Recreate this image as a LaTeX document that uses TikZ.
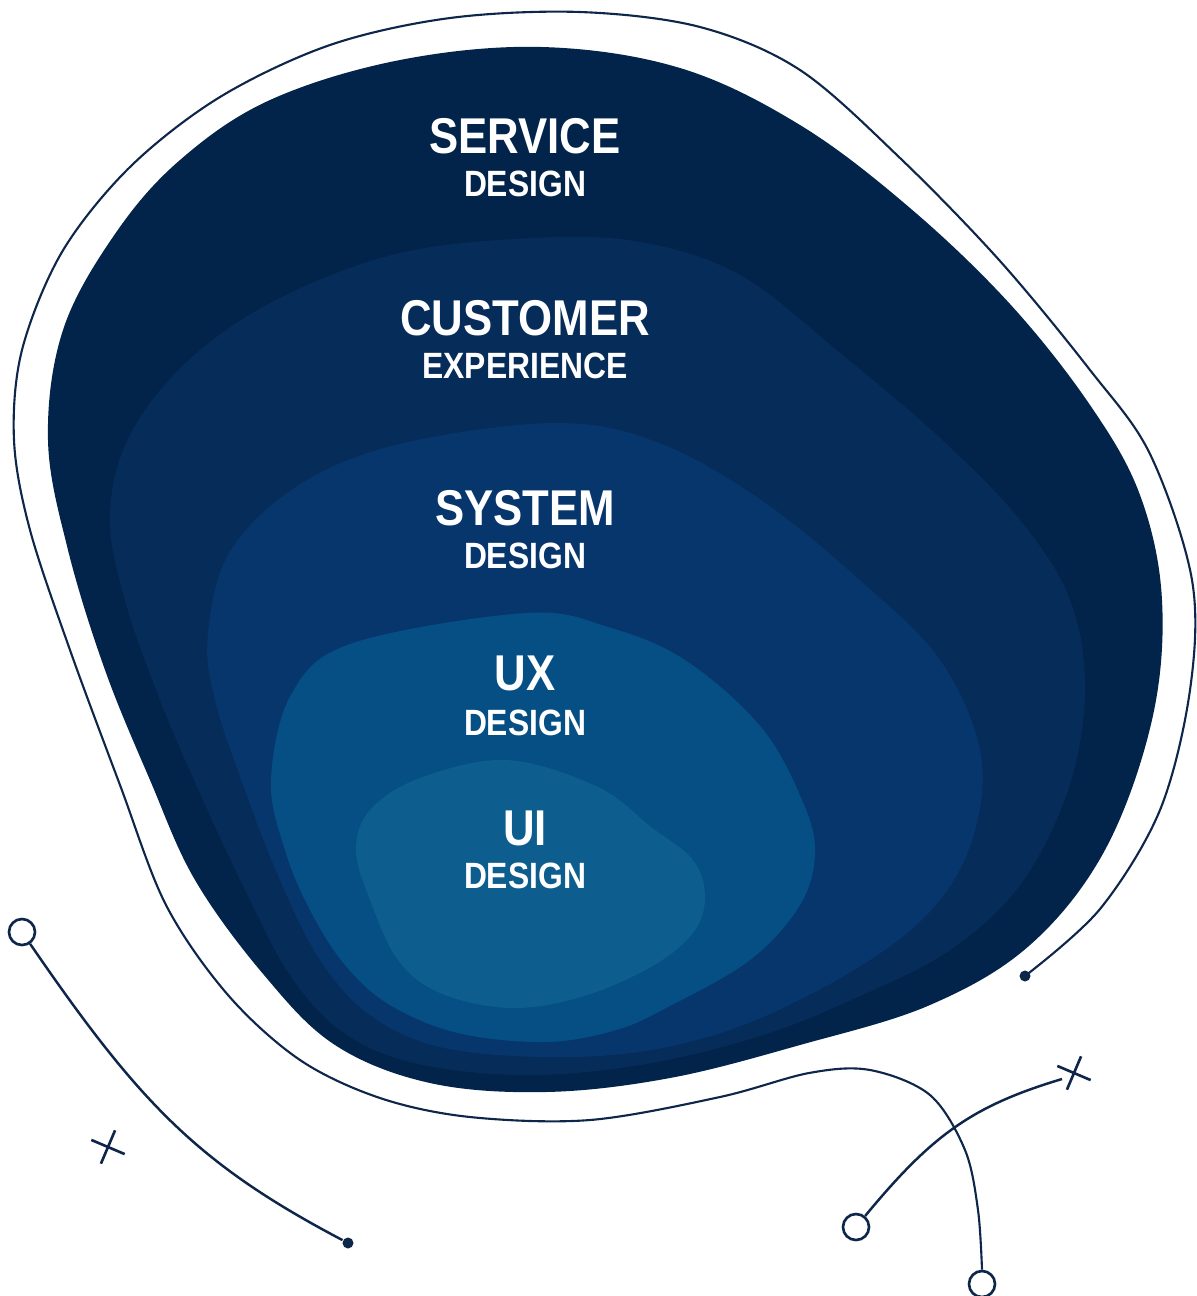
\documentclass[tikz,border=0pt]{standalone}
\usepackage{fontspec}
\usetikzlibrary{shapes.misc}
\newfontfamily\lblfont[FakeStretch=0.87]{Liberation Sans}
\definecolor{layerA}{HTML}{03244A}
\definecolor{layerB}{HTML}{062C5A}
\definecolor{layerC}{HTML}{07366D}
\definecolor{layerD}{HTML}{054F85}
\definecolor{layerE}{HTML}{0D5D8F}
\definecolor{inkline}{HTML}{0E2649}
\begin{document}
\begin{tikzpicture}[x=0.01cm, y=-0.01cm]
    \tikzstyle{title_big}   = [anchor=base, inner sep=0pt, text=white, font=\lblfont\bfseries\fontsize{14.3}{16}\selectfont]
    \tikzstyle{title_small} = [anchor=base, inner sep=0pt, text=white, font=\lblfont\bfseries\fontsize{10.4}{12}\selectfont]
    \tikzstyle{deco_ring}   = [shape = circle, draw = inkline, line width=0.75pt, minimum size=0.26cm, inner sep=0pt]
    \tikzstyle{deco_dot}    = [shape = circle, fill = inkline, minimum size=0.11cm, inner sep=0pt]
    \tikzstyle{deco_cross}  = [shape = cross out, draw = inkline, line width=0.75pt, minimum size=0.23cm, inner sep=0pt, rotate=22]
    \tikzstyle{deco_line}   = [draw = inkline, line width=0.7pt]

    \useasboundingbox (0,0) rectangle (1196,1296);

    \fill[layerA] plot[smooth cycle, tension=0.6] coordinates {
      (542,47) (680,68) (800,125) (910,208) (1010,304) (1090,405) (1140,495)
      (1162,600) (1152,720) (1105,850) (1030,945) (930,1005) (800,1045)
      (670,1078) (546,1092) (430,1083) (335,1045) (264,975) (195,880)
      (150,780) (105,670) (68,550) (48,440) (63,330) (115,234) (180,160)
      (270,100) (400,60)};

    \fill[layerB] plot[smooth cycle, tension=0.6] coordinates {
      (535,238) (640,242) (740,275) (840,353) (940,438) (1020,520) (1070,600)
      (1085,690) (1068,790) (1020,885) (950,950) (860,996) (760,1036)
      (640,1065) (520,1075) (410,1062) (340,1030) (290,975) (250,900)
      (203,800) (160,700) (125,600) (110,515) (130,435) (190,359) (280,298)
      (400,253)};

    \fill[layerC] plot[smooth cycle, tension=0.6] coordinates {
      (557,423) (659,443) (761,500) (863,583) (940,660) (980,750) (975,830)
      (940,900) (870,960) (756,1020) (651,1050) (546,1057) (440,1047)
      (370,1015) (320,960) (280,880) (245,790) (215,700) (208,633)
      (231,550) (302,483) (404,443)};

    \fill[layerD] plot[smooth cycle, tension=0.6] coordinates {
      (526,613) (608,627) (685,660) (761,727) (802,800) (815,852) (800,905)
      (750,960) (668,1007) (616,1030) (546,1042) (458,1033) (390,1005)
      (345,965) (310,910) (285,850) (271,780) (292,693) (353,643)};

    \fill[layerE] plot[smooth cycle, tension=0.6] coordinates {
      (507,760) (598,787) (651,827) (693,860) (705,897) (693,933) (651,967)
      (581,997) (510,1008) (440,993) (398,960) (370,900) (356,850) (370,810)
      (420,778)};

    \node[title_big]   at (525, 153) (svc_top) {SERVICE};
    \node[title_small] at (525, 196) (svc_sub) {DESIGN};
    \node[title_big]   at (525, 335) (cx_top)  {CUSTOMER};
    \node[title_small] at (525, 378) (cx_sub)  {EXPERIENCE};
    \node[title_big]   at (525, 525) (sys_top) {SYSTEM};
    \node[title_small] at (525, 568) (sys_sub) {DESIGN};
    \node[title_big]   at (525, 690) (ux_top)  {UX};
    \node[title_small] at (525, 735) (ux_sub)  {DESIGN};
    \node[title_big]   at (525, 845) (ui_top)  {UI};
    \node[title_small] at (525, 888) (ui_sub)  {DESIGN};

    \node[deco_dot]   at (1025, 976) (dot_r)   {};
    \node[deco_ring]  at (982, 1284) (ring_b)  {};
    \node[deco_ring]  at (22, 932)   (ring_l)  {};
    \node[deco_dot]   at (348, 1243) (dot_l)   {};
    \node[deco_cross] at (108, 1147) (cross_l) {};
    \node[deco_ring]  at (856, 1227) (ring_r)  {};
    \node[deco_cross] at (1074, 1073) (cross_r) {};
    \coordinate (tail_r) at (1062, 1079);

    \draw[deco_line, line width=0.6pt] plot[smooth, tension=0.55] coordinates {
      (dot_r) (1100,909) (1160,810) (1190,690) (1192,580) (1150,454) (1090,370)
      (1000,261) (900,158) (800,70) (700,27) (580,12) (450,18) (330,45)
      (220,97) (130,167) (62,252) (22,350) (14,440) (30,530) (70,650)
      (120,785) (166,905) (228,995) (300,1060) (380,1098) (470,1117)
      (590,1120) (720,1097) (809,1073) (870,1070) (930,1095) (965,1150)
      (978,1210) (ring_b.north)};

    \draw[deco_line] (ring_l) .. controls (140,1104) and (198,1164) .. (dot_l);
    \draw[deco_line] (ring_r) .. controls (932,1135) and (972,1106) .. (tail_r);
\end{tikzpicture}
\end{document}
